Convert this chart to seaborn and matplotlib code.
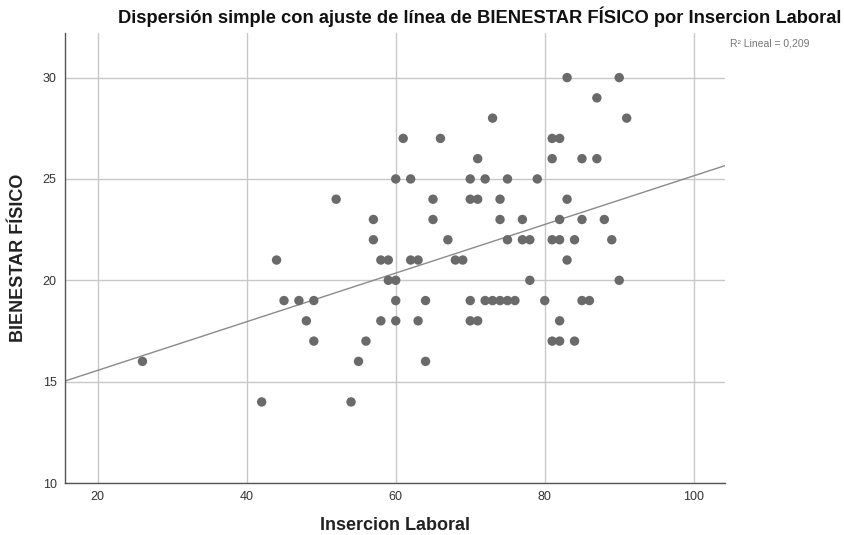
import numpy as np
import pandas as pd
import matplotlib
matplotlib.use("Agg")
import matplotlib.pyplot as plt
import seaborn as sns

# Inserción laboral (x) grouped by BIENESTAR FÍSICO score (y)
bienestar_30 = [83, 90]
bienestar_29 = [87]
bienestar_28 = [73, 91]
bienestar_27 = [61, 66, 81, 82]
bienestar_26 = [71, 81, 85, 87]
bienestar_25 = [60, 62, 70, 72, 75, 79]
bienestar_24 = [52, 65, 70, 71, 74, 83]
bienestar_23 = [57, 65, 74, 77, 82, 85, 88]
bienestar_22 = [57, 67, 75, 77, 78, 81, 82, 84, 89]
bienestar_21 = [44, 58, 59, 62, 63, 68, 69, 83]
bienestar_20 = [59, 60, 78, 90]
bienestar_19 = [45, 47, 49, 60, 64, 70, 72, 73, 74, 75, 76, 80, 85, 86]
bienestar_18 = [48, 58, 60, 63, 70, 71, 82]
bienestar_17 = [49, 56, 81, 82, 84]
bienestar_16 = [26, 55, 64]
bienestar_14 = [42, 54]

groups = {
    30: bienestar_30, 29: bienestar_29, 28: bienestar_28, 27: bienestar_27,
    26: bienestar_26, 25: bienestar_25, 24: bienestar_24, 23: bienestar_23,
    22: bienestar_22, 21: bienestar_21, 20: bienestar_20, 19: bienestar_19,
    18: bienestar_18, 17: bienestar_17, 16: bienestar_16, 14: bienestar_14,
}

x_ticks = [20, 40, 60, 80, 100]
y_ticks = [10, 15, 20, 25, 30]
r2_label = "R² Lineal = 0,209"

rows = [(x, y) for y, xs in groups.items() for x in xs]
df = pd.DataFrame(rows, columns=["Insercion Laboral", "BIENESTAR FÍSICO"])

sns.set_theme(style="white")
plt.rcParams["font.family"] = ["Liberation Sans", "DejaVu Sans"]

fig = plt.figure(figsize=(8.44, 5.35), dpi=100)
ax = fig.add_axes([65 / 844, 52 / 535, 660 / 844, 450 / 535])

ax.set_xlim(15.6, 104.2)
ax.set_ylim(10, 32.2)
ax.set_xticks(x_ticks)
ax.set_yticks(y_ticks)
ax.grid(True, color="#c8c8c8", linewidth=1.0)
ax.set_axisbelow(True)

sns.scatterplot(data=df, x="Insercion Laboral", y="BIENESTAR FÍSICO", ax=ax,
                color="#6a6a6a", s=46, edgecolor="none", zorder=3)

# least-squares fit line across the full axis
slope, intercept = np.polyfit(df["Insercion Laboral"], df["BIENESTAR FÍSICO"], 1)
ax.axline((0, intercept), slope=slope, color="#8a8a8a", linewidth=1.0, zorder=2)

for side in ["top", "right"]:
    ax.spines[side].set_visible(False)
for side in ["left", "bottom"]:
    ax.spines[side].set_color("#555555")
    ax.spines[side].set_linewidth(1.0)

ax.tick_params(axis="both", length=0, labelsize=9, colors="#333333", pad=6)
ax.set_xlabel("Insercion Laboral", fontsize=13, fontweight="bold", color="#222222")
ax.set_ylabel("BIENESTAR FÍSICO", fontsize=13, fontweight="bold", color="#222222")
ax.xaxis.set_label_coords(0.5, -0.075)
ax.yaxis.set_label_coords(-0.057, 0.5)

fig.text(480 / 844, 1 - 17 / 535, "Dispersión simple con ajuste de línea de BIENESTAR FÍSICO por Insercion Laboral",
         ha="center", va="center", fontsize=13.2, fontweight="bold", color="#111111")
fig.text(730 / 844, 1 - 44 / 535, r2_label, ha="left", va="center", fontsize=7.5, color="#777777")

fig.savefig("out.png", dpi=100, facecolor="white")
